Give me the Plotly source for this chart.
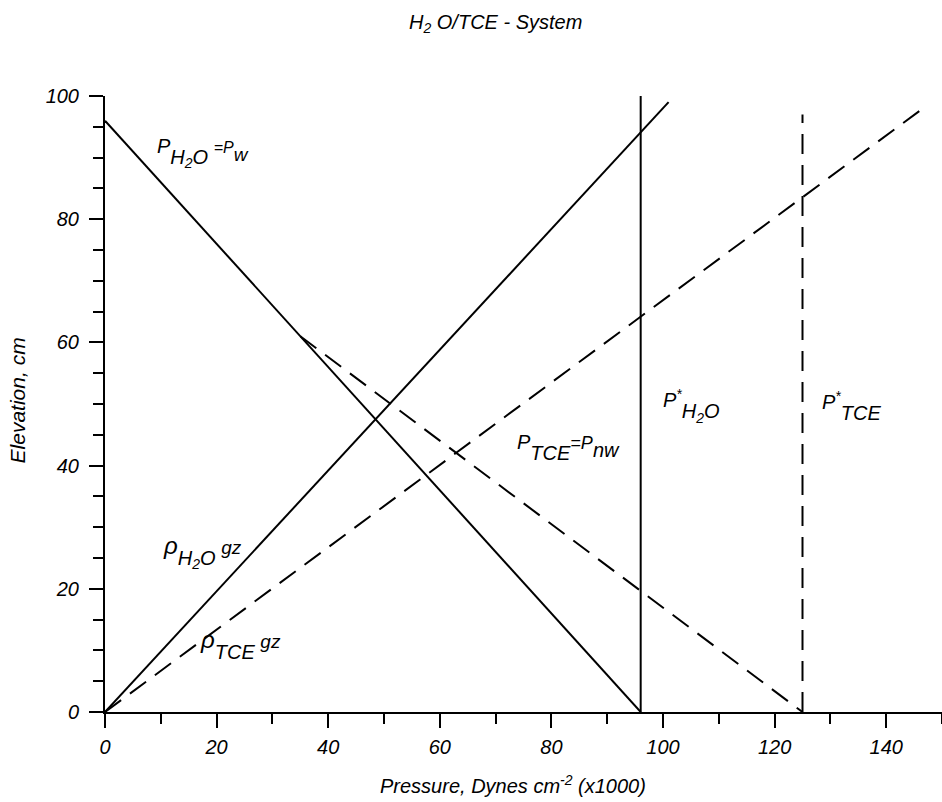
import plotly.graph_objects as go

# Pressure (x1000 dynes/cm^2) versus elevation (cm) for the water / TCE system
water_gz_x = [0, 101]
water_gz_y = [0, 99]
tce_gz_x = [0, 146]
tce_gz_y = [0, 97.6]
water_p_x = [0, 96]
water_p_y = [96, 0]
tce_p_x = [35, 125]
tce_p_y = [61, 0]
water_pstar_x = [96, 96]
water_pstar_y = [0, 100]
tce_pstar_x = [125, 125]
tce_pstar_y = [0, 97]

x_ticks = [0, 20, 40, 60, 80, 100, 120, 140]
y_ticks = [0, 20, 40, 60, 80, 100]

FONT = "Liberation Sans, Arial, sans-serif"
DASH = "20px,11px"


def sub(txt, size=20, drop=52):
    # a large wrapper makes the <sub> baseline drop deeper; inner span sets glyph size
    return (f"<span style='font-size:{drop}px'><sub>"
            f"<span style='font-size:{size}px'>{txt}</span></sub></span>")


def sized(txt, size):
    return f"<span style='font-size:{size}px'>{txt}</span>"


H2O = "H<sub>2</sub>O"

fig = go.Figure()


def add_line(xs, ys, dash="solid"):
    fig.add_trace(go.Scatter(x=xs, y=ys, mode="lines",
                             line=dict(color="black", width=2, dash=dash),
                             hoverinfo="skip", showlegend=False))


add_line(water_p_x, water_p_y)
add_line(water_gz_x, water_gz_y)
add_line(water_pstar_x, water_pstar_y)
add_line(tce_p_x, tce_p_y, DASH)
add_line(tce_gz_x, tce_gz_y, DASH)
add_line(tce_pstar_x, tce_pstar_y, DASH)

labels = [
    (9, 90.7, "P" + sub(H2O) + " " + sized("=P", 16) + sub("w", 19, 40)),
    (99.6, 49.6, "P<sup>*</sup>" + sub(H2O)),
    (128.2, 49.6, "P<sup>*</sup>" + sub("TCE")),
    (73.5, 43.0, "P" + sub("TCE") + sized("=P", 18) + sub("nw", 20, 40)),
    (10, 26.0, sized("ρ", 24) + sub(H2O) + " " + sized("gz", 19)),
    (16.7, 11.0, sized("ρ", 24) + sub("TCE") + " " + sized("gz", 19)),
]
for lx, ly, txt in labels:
    fig.add_annotation(x=lx, y=ly, xref="x", yref="y", text=txt, showarrow=False,
                       xanchor="left", yanchor="middle",
                       font=dict(family=FONT, size=20, color="black", style="italic"))

# Titles
fig.add_annotation(x=0.466, y=1.118, xref="paper", yref="paper",
                   text="H<sub>2</sub> O/TCE - System", showarrow=False,
                   xanchor="center", yanchor="middle",
                   font=dict(family=FONT, size=20, color="black", style="italic"))
fig.add_annotation(x=0.487, y=-0.118, xref="paper", yref="paper",
                   text="Pressure, Dynes cm<sup>-2</sup> (x1000)", showarrow=False,
                   xanchor="center", yanchor="middle",
                   font=dict(family=FONT, size=20, color="black", style="italic"))
fig.add_annotation(x=-0.105, y=0.506, xref="paper", yref="paper",
                   text="Elevation, cm", showarrow=False, textangle=-90,
                   xanchor="center", yanchor="middle",
                   font=dict(family=FONT, size=21, color="black", style="italic"))

axis_common = dict(showgrid=False, zeroline=False, showline=True, linecolor="black",
                   linewidth=2, ticks="outside", ticklen=14, tickwidth=2, tickcolor="black",
                   tickfont=dict(family=FONT, size=20, color="black", style="italic"))

fig.update_xaxes(range=[0, 150], tickvals=x_ticks, ticktext=[str(v) for v in x_ticks],
                 minor=dict(dtick=10, tick0=0, ticks="outside", ticklen=10, tickwidth=2,
                            tickcolor="black"),
                 ticklabelstandoff=2, **axis_common)
fig.update_yaxes(range=[0, 100], tickvals=y_ticks, ticktext=[str(v) for v in y_ticks],
                 minor=dict(dtick=5, tick0=0, ticks="outside", ticklen=10, tickwidth=2,
                            tickcolor="black"),
                 ticklabelstandoff=6, **axis_common)

fig.update_layout(width=942, height=802, margin=dict(l=105, r=0, t=96, b=90),
                  plot_bgcolor="white", paper_bgcolor="white")

fig.write_html("out.html")
